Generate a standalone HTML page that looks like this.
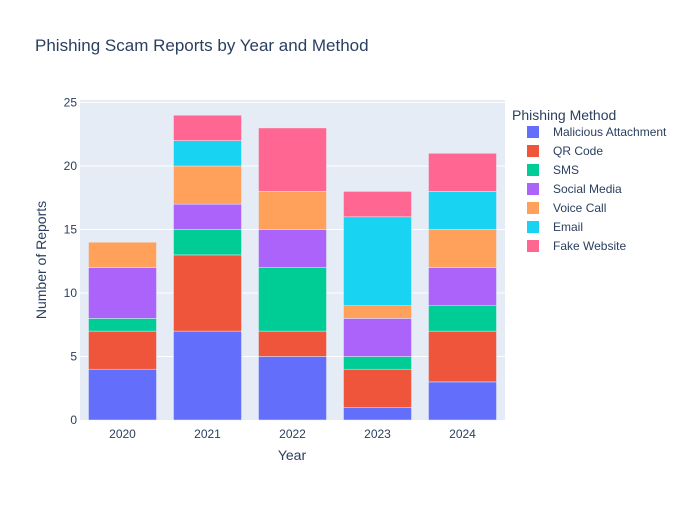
<!DOCTYPE html>
<html><head><meta charset="utf-8"><style>
body{margin:0;background:#fff;font-family:"Liberation Sans",Arial,sans-serif}
svg text{font-family:"Liberation Sans",Arial,sans-serif}
</style></head><body>
<svg id="chart" width="700" height="500" xmlns="http://www.w3.org/2000/svg">
<rect width="700" height="500" fill="#fff"/>
<text x="35" y="51" font-size="17" fill="#2a3f5f">Phishing Scam Reports by Year and Method</text>
<rect x="80" y="100" width="425" height="320" fill="#e5ecf6"/>
<g id="grid"></g><g id="bars"></g><g id="axes"></g><g id="legend"></g>
<text x="292" y="460" font-size="14" fill="#2a3f5f" text-anchor="middle">Year</text>
<text transform="translate(46,260) rotate(-90)" font-size="14" fill="#2a3f5f" text-anchor="middle">Number of Reports</text>
</svg>
<script>
const categories=["2020","2021","2022","2023","2024"];
const seriesNames=["Malicious Attachment","QR Code","SMS","Social Media","Voice Call","Email","Fake Website"];
const seriesColors=["#636efa","#ef553b","#00cc96","#ab63fa","#ffa15a","#19d3f3","#ff6692"];
const malicious=[4,7,5,1,3];
const qrCode=[3,6,2,3,4];
const sms=[1,2,5,1,2];
const socialMedia=[4,2,3,3,3];
const voiceCall=[2,3,3,1,3];
const email=[0,2,0,7,3];
const fakeWebsite=[0,2,5,2,3];
const yTicks=[0,5,10,15,20,25];
const series=[malicious,qrCode,sms,socialMedia,voiceCall,email,fakeWebsite];
const NS="http://www.w3.org/2000/svg";
const X0=80,W=425,Y0=420,H=320,YMAX=25.2;
const band=W/categories.length,bw=band*0.8;
const xC=i=>X0+band*(i+0.5);
const y=v=>Y0-v/YMAX*H;
function mk(t,a,p){const e=document.createElementNS(NS,t);for(const k in a)e.setAttribute(k,a[k]);p.appendChild(e);return e;}
const grid=document.getElementById('grid'),axes=document.getElementById('axes');
yTicks.forEach(t=>{
 if(t>0){const l=mk('line',{x1:X0,x2:X0+W,y1:y(t),y2:y(t),stroke:'#fff','stroke-width':1},grid);
 
 }
 const tx=mk('text',{x:X0-3,y:y(t)+4,'font-size':12,fill:'#2a3f5f','text-anchor':'end'},axes);
 tx.textContent=t;
 
 
});
categories.forEach((c,i)=>{
 const tx=mk('text',{x:xC(i),y:Y0+18,'font-size':12,fill:'#2a3f5f','text-anchor':'middle'},axes);
 tx.textContent=c;
 
 
});
const bars=document.getElementById('bars');
categories.forEach((c,i)=>{
 let base=0;
 series.forEach((s,k)=>{
  const v=s[i];if(v<=0)return;
  const r=mk('rect',{x:xC(i)-bw/2,y:y(base+v),width:bw,height:y(base)-y(base+v),fill:seriesColors[k],stroke:'#e5ecf6','stroke-width':0.5},bars);
  
  
  base+=v;
 });
});
const lg=document.getElementById('legend');
const lt=mk('text',{x:512,y:120,'font-size':14,fill:'#2a3f5f'},lg);
lt.textContent="Phishing Method";


seriesNames.forEach((n,k)=>{
 const yy=132+k*19;
 const g=mk('g',{},lg);
 
 
 mk('rect',{x:527,y:yy-6,width:12,height:12,fill:seriesColors[k]},g);
 const t=mk('text',{x:553,y:yy+4,'font-size':12,fill:'#2a3f5f'},g);
 t.textContent=n;
});
</script>
</body></html>
